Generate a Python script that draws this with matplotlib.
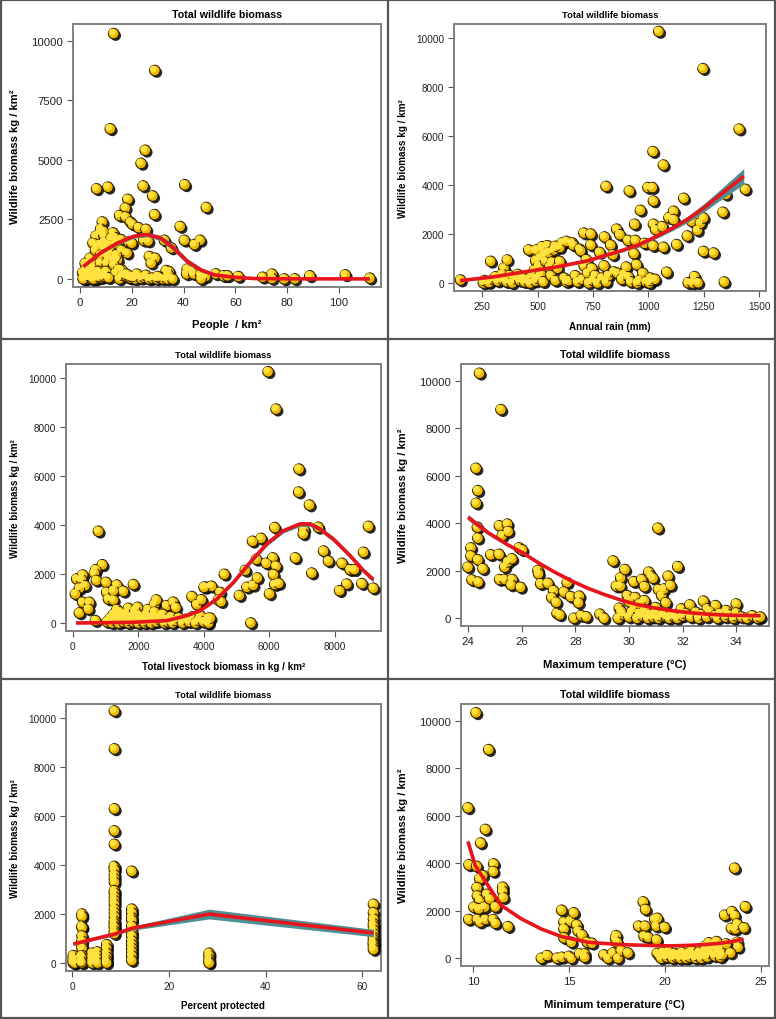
import numpy as np
import matplotlib
matplotlib.use("Agg")
import matplotlib.pyplot as plt
import matplotlib.patheffects as pe
from matplotlib.transforms import ScaledTranslation
from matplotlib.lines import Line2D

plt.rcParams['font.family'] = ['Liberation Sans', 'DejaVu Sans']

# ---- data ----
title = "Total wildlife biomass"
ylab = "Wildlife biomass kg / km\u00b2"

# people / km2
people_pts = [(13, 10300), (28.9, 8750), (11.7, 6300), (25.2, 5400), (23.6, 4850), (24.4, 3900), (6.4, 3780),
              (10.8, 3850), (40.5, 3950), (28.1, 3480), (18.5, 3340), (48.8, 3000), (17.5, 2970), (28.8, 2700),
              (15.3, 2660), (17.6, 2600), (8.6, 2390), (19.5, 2380), (20.2, 2300), (38.7, 2200), (22.6, 2150),
              (25.5, 2080), (12.8, 1930), (7.8, 1950), (6.2, 1800), (9.3, 1800), (13.6, 1730), (40.3, 1620),
              (46.4, 1620), (24.6, 1620), (26.3, 1590), (15.8, 1650), (18.8, 1550), (32.6, 1620), (44.2, 1440),
              (35.3, 1300), (9.0, 1300), (10.4, 1440), (7.8, 1440), (6.5, 1370), (11.7, 1080), (18.2, 1080),
              (14.5, 800), (26.8, 940), (29.0, 870), (27.5, 660), (3.9, 870), (7.8, 660), (10.4, 660), (13.0, 800),
              (10.1, 310), (7.3, 310), (16.1, 380), (13.9, 240), (33.3, 350), (34.4, 310), (41.4, 410), (43.4, 350),
              (41.2, 210), (43.9, 210), (46.7, 170), (48.5, 100), (46.8, 0), (52.5, 210), (55.5, 130), (57.0, 130),
              (61.2, 100), (70.6, 70), (74.2, 200), (74.2, 15), (78.9, 0), (83.0, 0), (88.8, 130), (102.5, 170),
              (112.0, 30), (9.5, 1550), (11.0, 1200), (12.0, 1400), (14.0, 1500), (16.0, 1200), (8.0, 2100),
              (9.0, 2000), (12.0, 1700), (10.0, 1000), (14.0, 1000), (20.0, 1500), (5.0, 1500), (6.0, 1200),
              (8.0, 1000), (11.0, 900), (13.0, 600), (15.0, 400), (5.0, 500), (2.0, 650), (3.0, 400), (4.0, 700),
              (1.0, 250), (1.5, 100), (2.0, 0), (2.5, 200), (3.0, 50), (3.5, 300), (4.0, 100), (4.5, 0), (5.0, 200),
              (5.5, 50), (6.0, 0), (6.5, 150), (7.0, 250), (8.0, 50), (1.2, 0), (2.2, 350), (3.2, 150), (4.2, 250),
              (5.2, 0), (6.2, 300), (7.2, 100), (8.5, 200), (9.5, 100), (11.0, 50), (15.2, 0), (16.5, 150),
              (17.9, 100), (19.0, 50), (19.7, 30), (21.3, 0), (22.3, 130), (23.6, 30), (24.9, 70), (25.5, 150),
              (26.7, 0), (27.9, 30), (29.7, 0), (31.0, 50), (32.0, 0), (33.7, 0), (35.8, 0), (34.0, 200),
              (22.0, 200), (20.0, 100), (18.0, 200), (30.0, 100)]
people_fit_x = [1.3, 7.8, 14.3, 20.8, 25.9, 31.1, 36.3, 41.5, 46.7, 51.9, 59.7, 67.4, 80, 112]
people_fit_y = [520, 1080, 1500, 1790, 1860, 1720, 1290, 730, 380, 170, 70, 15, 3, 0]
people_fit_se = [60, 60, 70, 80, 90, 110, 130, 120, 90, 60, 30, 15, 10, 10]

# annual rain (mm)
rain_pts = [(152, 120), (288, 885), (348, 610), (363, 940), (340, 350), (330, 200), (270, 50), (255, 0), (260, 100),
            (280, 20), (300, 150), (310, 250), (320, 80), (345, 120), (360, 50), (375, 300), (385, 0), (395, 180),
            (410, 350), (420, 100), (430, 250), (440, 50), (455, 150), (465, 0), (475, 300), (485, 520), (490, 80),
            (491, 910), (491, 1295), (500, 200), (505, 700), (510, 1000), (515, 350), (521, 1485), (525, 50),
            (530, 1150), (535, 900), (544, 1525), (550, 1250), (555, 650), (560, 300), (565, 850), (574, 1350),
            (580, 100), (590, 600), (600, 880), (611, 1635), (620, 200), (630, 50), (640, 100), (657, 1635),
            (660, 1550), (670, 300), (680, 50), (690, 1380), (694, 1320), (700, 150), (709, 2040), (710, 700),
            (720, 950), (725, 400), (730, 0), (740, 2000), (740, 1550), (745, 600), (750, 100), (760, 300), (770, 0),
            (780, 1250), (790, 200), (800, 700), (802, 1880), (810, 50), (820, 300), (830, 1550), (840, 1150),
            (845, 450), (857, 2200), (860, 400), (871, 1975), (880, 150), (890, 350), (900, 650), (908, 1740),
            (910, 250), (914, 3760), (920, 50), (935, 1200), (938, 2400), (941, 1740), (947, 750), (950, 0),
            (960, 100), (964, 2970), (975, 400), (983, 1620), (990, 50), (998, 3900), (1005, 0), (1010, 200),
            (1015, 100), (1018, 3900), (1021, 5370), (1021, 1525), (1023, 3350), (1023, 2400), (1030, 150),
            (1033, 2180), (1047, 10280), (1063, 2300), (1068, 4820), (1068, 1460), (1083, 440), (1093, 2670),
            (1114, 2930), (1114, 2590), (1128, 1570), (1160, 3460), (1176, 1920), (1180, 10), (1196, 2520),
            (1200, 0), (1209, 260), (1222, 2150), (1224, 10), (1235, 2440), (1247, 8760), (1249, 2660),
            (1249, 1290), (1295, 1225), (1337, 2890), (1343, 40), (1350, 3620), (1410, 6290), (1438, 3830),
            (809, 3950), (600, 1450), (520, 1400), (495, 1350), (580, 1500), (630, 1700), (460, 1350)]
rain_fit_x = [150, 300, 426, 577, 727, 878, 953, 1029, 1105, 1180, 1255, 1330, 1431]
rain_fit_y = [95, 250, 435, 640, 910, 1320, 1550, 1870, 2220, 2615, 3100, 3640, 4360]
rain_fit_se = [40, 40, 40, 40, 50, 60, 70, 80, 100, 130, 170, 220, 320]

# livestock biomass
stock_pts = [(5965, 10270), (6210, 8740), (6910, 6290), (6900, 5350), (7230, 4820), (784, 3750), (6170, 3900),
             (7500, 3910), (9030, 3950), (7060, 3810), (7040, 3640), (5750, 3460), (5490, 3340), (7660, 2940),
             (7810, 2530), (6800, 2660), (6110, 2660), (5610, 2600), (5910, 2440), (6210, 2320), (8880, 2890),
             (8220, 2440), (8470, 2180), (8600, 2180), (7300, 2040), (5270, 2150), (4630, 1990), (6130, 1980),
             (906, 2380), (703, 2180), (662, 2030), (122, 1800), (305, 1960), (275, 1760), (377, 1525), (204, 1420),
             (81, 1185), (723, 1740), (1018, 1660), (1344, 1550), (1547, 1295), (1853, 1570), (1038, 1250),
             (1089, 980), (1242, 940), (1242, 1320), (305, 845), (509, 845), (204, 410), (478, 570), (692, 95),
             (1985, 640), (2494, 750), (2555, 940), (2870, 710), (3070, 850), (3150, 630), (3640, 1080), (3790, 750),
             (3930, 950), (4060, 1470), (4240, 1500), (4500, 1250), (4450, 940), (4530, 870), (4010, 1460),
             (5090, 1120), (5320, 1460), (5510, 1540), (5640, 1840), (6010, 1190), (6170, 1570), (6290, 1620),
             (8370, 1590), (8150, 1320), (8830, 1610), (9180, 1420), (5440, 0), (4140, 190), (4100, 0),
             (1050, 50), (1150, 200), (1200, 0), (1250, 350), (1300, 100), (1350, 250), (1400, 0), (1450, 150),
             (1500, 300), (1550, 50), (1600, 200), (1650, 400), (1700, 0), (1750, 100), (1800, 250), (1850, 50),
             (1900, 350), (1950, 150), (2000, 0), (2050, 300), (2100, 100), (2150, 200), (2200, 0), (2250, 350),
             (2300, 50), (2350, 250), (2400, 0), (2450, 150), (2500, 300), (2550, 50), (2600, 200), (2700, 100),
             (2750, 350), (2800, 0), (2850, 150), (2900, 50), (3000, 250), (3050, 0), (3150, 100), (3250, 200),
             (3350, 0), (3450, 150), (3550, 50), (3650, 250), (3750, 0), (3850, 100), (3900, 300), (4000, 50),
             (4150, 0), (4200, 200), (1350, 550), (1450, 450), (1700, 600), (1900, 500), (2300, 550), (2500, 450)]
stock_fit_x = [100, 1000, 1850, 2870, 3480, 3890, 4400, 4910, 5420, 5925, 6430, 6940, 7250, 7550, 7960, 8470,
               8880, 9180]
stock_fit_y = [0, 10, 30, 95, 300, 500, 980, 1660, 2480, 3230, 3770, 4045, 4045, 3840, 3430, 2750, 2140, 1770]
stock_fit_se = [20, 20, 20, 30, 40, 50, 60, 70, 80, 90, 90, 100, 100, 100, 100, 100, 100, 100]

# maximum temperature
tmax_pts = [(24.43, 10310), (25.23, 8780), (24.3, 6310), (24.37, 5370), (24.31, 4840), (24.35, 3830), (25.17, 3890),
            (25.47, 3960), (25.28, 3480), (25.5, 3650), (24.37, 3370), (24.11, 2960), (24.11, 2620), (24.0, 2150),
            (24.37, 2460), (24.56, 2080), (24.15, 1610), (24.38, 1520), (24.85, 2670), (25.16, 2690), (25.37, 2150),
            (25.49, 2370), (25.64, 2500), (25.18, 1630), (25.37, 1630), (25.65, 1630), (25.61, 1400), (25.91, 2960),
            (26.02, 2880), (25.96, 1300), (26.61, 2010), (26.63, 1870), (26.71, 1450), (26.98, 1470), (27.19, 1160),
            (27.12, 870), (27.29, 670), (27.32, 200), (27.42, 140), (27.7, 1500), (27.58, 1100), (27.83, 910),
            (28.15, 930), (28.12, 650), (27.95, 0), (28.22, 110), (28.41, 60), (28.92, 170), (29.07, 0),
            (29.41, 2410), (29.53, 1350), (29.68, 1350), (29.69, 1700), (29.85, 2050), (29.64, 420), (29.94, 950),
            (29.99, 770), (30.18, 1540), (30.48, 1630), (30.58, 1330), (30.74, 1940), (30.83, 1770), (30.9, 1680),
            (31.08, 3790), (31.1, 1210), (31.22, 950), (31.31, 1230), (31.46, 1770), (31.55, 1380), (31.82, 2170),
            (31.38, 650), (30.23, 870), (30.58, 740), (31.95, 390), (32.27, 560), (32.78, 720), (32.92, 390),
            (33.23, 530), (33.63, 320), (34.0, 600), (34.0, 220),
            (29.6, 0), (29.8, 150), (30.0, 50), (30.1, 250), (30.3, 0), (30.4, 200), (30.5, 100), (30.6, 300),
            (30.7, 0), (30.8, 150), (30.9, 50), (31.0, 250), (31.1, 0), (31.2, 100), (31.3, 200), (31.4, 50),
            (31.5, 0), (31.6, 150), (31.7, 50), (31.8, 0), (32.0, 100), (32.1, 200), (32.3, 50), (32.5, 250),
            (32.6, 0), (32.7, 150), (32.9, 50), (33.0, 300), (33.2, 100), (33.3, 0), (33.4, 200), (33.6, 50),
            (33.7, 150), (33.9, 0), (34.0, 100), (34.2, 50), (34.4, 0), (34.6, 100), (34.8, 0), (34.9, 50),
            (29.7, 300), (30.2, 450), (30.4, 600), (30.6, 350), (30.0, 700), (31.0, 450)]
tmax_fit_x = [24.0, 24.75, 25.5, 26.0, 26.6, 27.23, 27.85, 28.47, 29.1, 29.71, 30.3, 30.96, 31.6, 32.2, 32.8,
              33.44, 34.2, 34.9]
tmax_fit_y = [4250, 3600, 3080, 2780, 2350, 1940, 1580, 1260, 990, 760, 580, 430, 320, 240, 180, 140, 115, 105]
tmax_fit_se = [120, 90, 70, 60, 50, 40, 35, 30, 30, 30, 30, 30, 30, 30, 30, 30, 30, 30]

# percent protected
prot_pts = [(0.2, 300), (0.2, 200), (0.2, 100), (0.2, 50), (0.2, 0), (0.5, 150), (0.5, 0),
            (2.0, 2000), (2.0, 1900), (2.0, 1500), (2.0, 1450), (2.0, 1100), (2.0, 900), (2.0, 700), (2.0, 600),
            (2.0, 300), (2.0, 150), (2.0, 0), (1.8, 250), (1.8, 50),
            (4.1, 400), (4.1, 250), (4.1, 100), (4.1, 0), (5.2, 450), (5.2, 300), (5.2, 150), (5.2, 0),
            (7.1, 750), (7.1, 600), (7.1, 400), (7.1, 250), (7.1, 100), (7.1, 0),
            (8.7, 10300), (8.7, 8750), (8.7, 6300), (8.7, 5400), (8.7, 4850), (8.7, 3950), (8.7, 3900), (8.7, 3800),
            (8.7, 3600), (8.7, 3450), (8.7, 3300), (8.7, 2950), (8.7, 2850), (8.7, 2700), (8.7, 2550), (8.7, 2400),
            (8.7, 2200), (8.7, 2050), (8.7, 1900), (8.7, 1700), (8.7, 1600), (8.7, 1500), (8.7, 1450), (8.7, 1300),
            (8.7, 1200),
            (12.3, 3750), (12.3, 2200), (12.3, 2050), (12.3, 1850), (12.3, 1750), (12.3, 1500), (12.3, 1250),
            (12.3, 1100), (12.3, 900), (12.3, 750), (12.3, 600), (12.3, 450), (12.3, 300), (12.3, 100),
            (28.3, 400), (28.3, 300), (28.3, 150), (28.3, 50), (28.3, 0),
            (62.3, 2400), (62.3, 2050), (62.3, 1800), (62.3, 1600), (62.3, 1500), (62.3, 1350), (62.3, 1200),
            (62.3, 1050), (62.3, 950), (62.3, 850), (62.3, 800), (62.3, 750), (62.3, 650), (62.3, 550)]
prot_fit_x = [0.2, 8.8, 12.3, 28.3, 62.3]
prot_fit_y = [776, 1185, 1416, 2000, 1225]
prot_fit_se = [50, 60, 80, 200, 150]

# minimum temperature
tmin_pts = [(10.14, 10330), (10.8, 8780), (9.72, 6330), (10.63, 5420), (10.38, 4850), (9.77, 3930), (10.17, 3870),
            (11.06, 3970), (11.04, 3650), (10.49, 3480), (10.33, 3340), (10.19, 2970), (11.53, 2990), (11.53, 2820),
            (11.57, 2550), (10.21, 2620), (10.33, 2440), (10.71, 2690), (10.59, 2150), (10.85, 2500), (11.15, 2160),
            (10.03, 2150), (10.28, 2080), (9.76, 1630), (10.21, 1630), (10.35, 1520), (10.63, 1630), (11.04, 1630),
            (11.15, 1470), (11.81, 1330), (14.61, 2020), (14.73, 1520), (15.05, 1560), (15.24, 1910), (14.73, 1230),
            (14.73, 860), (15.4, 1400), (15.47, 1140), (15.67, 980), (15.12, 670), (15.95, 670), (16.19, 630),
            (13.55, 0), (13.86, 110), (14.37, 0), (14.63, 40), (14.99, 80), (15.12, 0), (15.55, 180), (15.81, 180),
            (15.81, 40), (16.82, 140), (17.03, 0), (17.29, 220), (17.43, 810), (17.46, 950), (17.51, 670),
            (17.55, 0), (17.72, 320), (18.07, 220), (18.87, 2370), (18.99, 2050), (18.63, 1350), (18.96, 1350),
            (18.91, 930), (19.12, 880), (19.55, 1350), (19.47, 1640), (19.6, 1680), (19.57, 770), (19.99, 1300),
            (23.64, 3790), (23.12, 1810), (23.5, 1960), (23.64, 1800), (23.47, 1260), (23.68, 1230), (23.78, 1440),
            (24.13, 1280), (24.2, 2170), (23.78, 670), (23.82, 460), (23.43, 220),
            (19.6, 200), (19.7, 100), (19.8, 0), (19.9, 250), (20.0, 150), (20.1, 50), (20.2, 300), (20.3, 100),
            (20.4, 0), (20.5, 200), (20.6, 50), (20.7, 150), (20.8, 0), (20.9, 250), (21.0, 100), (21.1, 0),
            (21.2, 200), (21.3, 50), (21.4, 300), (21.5, 150), (21.6, 0), (21.7, 100), (21.8, 250), (21.9, 0),
            (22.0, 150), (22.1, 300), (22.2, 50), (22.3, 400), (22.4, 200), (22.5, 550), (22.6, 100), (22.7, 700),
            (22.8, 300), (22.9, 50), (23.0, 150), (22.3, 650), (22.1, 500), (22.6, 450), (22.9, 400), (23.2, 600)]
tmin_fit_x = [9.72, 10.1, 10.77, 11.46, 12.5, 13.55, 14.6, 16.0, 17.7, 19.47, 20.3, 21.2, 22.1, 22.9, 23.5, 24.1]
tmin_fit_y = [4910, 3900, 3060, 2220, 1660, 1230, 910, 670, 575, 530, 520, 540, 575, 630, 700, 810]
tmin_fit_se = [120, 90, 70, 50, 40, 30, 30, 30, 30, 30, 30, 30, 30, 30, 40, 60]

W, H = 776, 1020
fig = plt.figure(figsize=(W / 100, H / 100), dpi=100)


def panel(px, pts, fx, fy, fse, xlab, xticks, xlim, yticks, ylim, fs, ms, ylab_x, xlab_y):
    # px = (left, right, top, bottom) of the plot frame in image pixels
    l, r, t, b = px
    ax = fig.add_axes([l / W, 1 - b / H, (r - l) / W, (b - t) / H])
    pts = np.array(pts, dtype=float)
    fx = np.array(fx)
    fy = np.array(fy)
    fse = np.array(fse)
    # balls: dark shadow + gold body + light highlight
    ax.scatter(pts[:, 0], pts[:, 1], s=ms, c='#EDB800', edgecolors='#2a1c00', linewidths=0.7, zorder=3,
               path_effects=[pe.SimplePatchShadow(offset=(1.5, -1.5), shadow_rgbFace='k', alpha=0.85), pe.Normal()])
    hl = ax.transData + ScaledTranslation(-1.0 / 72, 1.0 / 72, fig.dpi_scale_trans)
    ax.scatter(pts[:, 0], pts[:, 1], s=ms * 0.42, c='#FFE23F', edgecolors='none', zorder=4, transform=hl)
    ax.fill_between(fx, fy - fse, fy + fse, color='#4E8F94', lw=0, zorder=5)
    ax.plot(fx, fy, color='#E8141B', lw=2.6, zorder=6, solid_capstyle='butt')
    ax.set_xlim(*xlim)
    ax.set_ylim(*ylim)
    ax.set_xticks(xticks)
    ax.set_yticks(yticks)
    for s in ax.spines.values():
        s.set_color('#808080')
        s.set_linewidth(1.4)
    ax.tick_params(direction='out', length=4, width=0.8, color='#555555', labelsize=fs + 0.5,
                   labelcolor='#222222', pad=3)
    ax.set_title(title, fontsize=fs, fontweight='bold', pad=5)
    ax.set_xlabel(xlab, fontsize=fs + 0.4, fontweight='bold')
    ax.set_ylabel(ylab, fontsize=fs + 0.4, fontweight='bold')
    ax.yaxis.set_label_coords((ylab_x - l) / (r - l), 0.5)
    ax.xaxis.set_label_coords(0.5, (b - xlab_y) / (b - t))
    return ax


big = 7.7
small = 6.7
ylim_a = (-340, 10700)
ylim_b = (-340, 10585)
t4 = [0, 2500, 5000, 7500, 10000]
t5 = [0, 2000, 4000, 6000, 8000, 10000]
msz = 58

panel((73, 381, 25, 288), people_pts, people_fit_x, people_fit_y, people_fit_se, "People  / km\u00b2",
      [0, 20, 40, 60, 80, 100], (-2.7, 116.3), t4, ylim_a, big, msz, 20, 320)
panel((453.7, 765.7, 25, 292.3), rain_pts, rain_fit_x, rain_fit_y, rain_fit_se, "Annual rain (mm)",
      [250, 500, 750, 1000, 1250, 1500], (121, 1530), t5, ylim_b, small, msz, 408, 322)
panel((65.7, 380.7, 365, 632.3), stock_pts, stock_fit_x, stock_fit_y, stock_fit_se,
      "Total livestock biomass in kg / km\u00b2", [0, 2000, 4000, 6000, 8000], (-214, 9405), t5, ylim_b, small, msz,
      20, 662)
panel((460.7, 768.7, 365, 627.3), tmax_pts, tmax_fit_x, tmax_fit_y, tmax_fit_se, "Maximum temperature (\u00b0C)",
      [24, 26, 28, 30, 32, 34], (23.73, 35.21), t5, ylim_a, big, msz, 408, 660)
panel((65.7, 380.7, 705, 972.3), prot_pts, prot_fit_x, prot_fit_y, prot_fit_se, "Percent protected",
      [0, 20, 40, 60], (-1.37, 63.8), t5, ylim_b, small, msz, 20, 1001)
panel((460.7, 768.7, 705, 967.3), tmin_pts, tmin_fit_x, tmin_fit_y, tmin_fit_se, "Minimum temperature (\u00b0C)",
      [10, 15, 20, 25], (9.34, 25.42), t5, ylim_a, big, msz, 408, 1000)

# panel frame lines
kw = dict(color='#555555', lw=1.6, transform=fig.transFigure)
for yy in [340, 680]:
    fig.add_artist(Line2D([0, 1], [1 - yy / H, 1 - yy / H], **kw))
fig.add_artist(Line2D([388 / W, 388 / W], [0, 1], **kw))
fig.add_artist(Line2D([0, 1, 1, 0, 0], [0.0007, 0.0007, 0.999, 0.999, 0.0007], **kw))
fig.add_artist(Line2D([0.0008, 0.0008], [0, 1], **kw))
fig.add_artist(Line2D([0.9992, 0.9992], [0, 1], **kw))

fig.savefig("out.png", dpi=100)
